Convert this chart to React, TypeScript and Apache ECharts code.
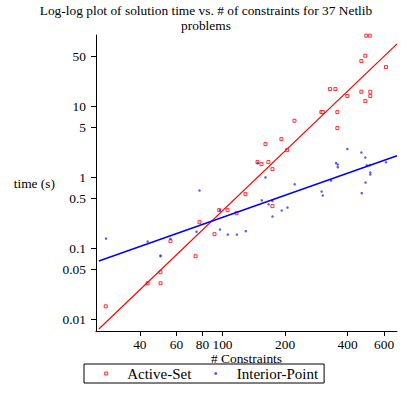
import React, { useEffect, useRef } from 'react';
import * as echarts from 'echarts';

// Number of constraints (x) and solution time in seconds (y) per Netlib problem
const activeSetConstraints = [27.4, 43.6, 50.3, 50.3, 56.2, 74.2, 77.5, 91.5, 96.4, 105.7, 116.8, 129.0, 147.4, 154.0, 166.4, 161.0, 174.0, 174.0, 192.1, 204.7, 222.0, 299.2, 303.9, 357.2, 357.2, 329.5, 349.4, 399, 466, 514.6, 514.6, 486.9, 466, 486.9, 612.4, 492.3, 511.2];
const activeSetTime = [0.0152, 0.0321, 0.0459, 0.0321, 0.1255, 0.0771, 0.232, 0.1575, 0.343, 0.343, 0.311, 0.576, 1.627, 1.524, 1.627, 2.915, 1.296, 0.391, 3.43, 2.40, 6.21, 8.23, 8.23, 8.23, 4.90, 17.35, 17.35, 13.83, 15.9, 15.9, 13.83, 11.76, 43.0, 51.1, 35.4, 97.8, 97.8];

const interiorPointConstraints = [27.5, 43.6, 50.3, 50.3, 56.2, 75, 77.5, 97.2, 97.2, 106, 117.3, 129.5, 147.8, 154.5, 161, 166.7, 174, 174, 192.8, 205.5, 222.5, 300, 303.9, 333.2, 352.1, 358.8, 358.8, 399, 466, 468, 486.9, 488, 494.5, 511.2, 514.6, 514.6, 612.4];
const interiorPointTime = [0.1365, 0.124, 0.0771, 0.079, 0.135, 0.171, 0.648, 0.343, 0.183, 0.1555, 0.1555, 0.1735, 1.575, 0.471, 0.99, 0.414, 0.461, 0.279, 0.339, 0.373, 0.792, 0.627, 0.551, 0.895, 1.575, 1.504, 1.383, 2.48, 2.22, 0.595, 1.888, 0.839, 1.466, 1.476, 1.161, 1.088, 1.616];

// Fitted lines (end points)
const fitConstraints = [25.4, 692];
const activeSetFit = [0.0073, 75];
const interiorPointFit = [0.0662, 2.0];

const xTicks = [40, 60, 80, 100, 200, 400, 600];
const yTicks = [0.01, 0.05, 0.1, 0.5, 1, 5, 10, 50];

const FONT = '"Liberation Serif", "Times New Roman", serif';
const lg = Math.log10;
const pairs = (xs: number[], ys: number[]) => xs.map((x, i) => [lg(x), lg(ys[i])]);
const tickLabel = (ticks: number[]) => (v: number) => {
  const t = ticks.find((k) => Math.abs(lg(k) - v) < 1e-6);
  return t === undefined ? '' : String(t);
};

export default function App() {
  const ref = useRef<HTMLDivElement>(null);
  useEffect(() => {
    if (!ref.current) return;
    const chart = echarts.init(ref.current, undefined, { renderer: 'svg' });
    chart.setOption({
      animation: false,
      backgroundColor: '#fff',
      title: {
        text: 'Log-log plot of solution time vs. # of constraints for 37 Netlib\nproblems',
        left: 'center',
        top: 3,
        padding: 0,
        textStyle: { fontFamily: FONT, fontSize: 13.4, fontWeight: 'normal', color: '#000', lineHeight: 15 },
      },
      legend: {
        data: [
          { name: 'Active-Set', icon: 'rect', itemStyle: { color: '#fff', borderColor: '#ff0000', borderWidth: 1 } },
          { name: 'Interior-Point', icon: 'circle', itemStyle: { color: '#3030ff', borderWidth: 0 } },
        ],
        left: 84,
        top: 364,
        orient: 'horizontal',
        itemWidth: 3,
        itemHeight: 3,
        itemGap: 22.9,
        padding: [2, 6, 2, 20.2],
        borderColor: '#000',
        borderWidth: 1,
        borderRadius: 0,
        selectedMode: false,
        textStyle: { fontFamily: FONT, fontSize: 15, color: '#000', lineHeight: 15, padding: [0, 0, 0, 14.5] },
      },
      grid: { left: 96, right: 15, top: 35, bottom: 63, containLabel: false },
      xAxis: {
        type: 'value',
        min: 1.391,
        max: 2.84,
        name: '# Constraints',
        nameLocation: 'middle',
        nameGap: 21,
        nameMoveOverlap: false,
        nameTextStyle: { fontFamily: FONT, fontSize: 13.4, color: '#000', lineHeight: 13.4 },
        axisLine: { show: true, onZero: false, lineStyle: { color: '#000', width: 1 } },
        axisTick: { show: true, length: 5, lineStyle: { color: '#000' }, customValues: xTicks.map(lg) },
        axisLabel: {
          customValues: xTicks.map(lg),
          formatter: tickLabel(xTicks),
          margin: 7,
          fontFamily: FONT,
          fontSize: 13.4,
          color: '#000',
        },
        splitLine: { show: false },
      },
      yAxis: {
        type: 'value',
        min: -2.165,
        max: 2.0,
        name: 'time (s)',
        nameLocation: 'middle',
        nameRotate: 0,
        nameGap: 41,
        nameMoveOverlap: false,
        nameTextStyle: { fontFamily: FONT, fontSize: 13.4, color: '#000' },
        axisLine: { show: true, onZero: false, lineStyle: { color: '#000', width: 1 } },
        axisTick: { show: true, length: 5, lineStyle: { color: '#000' }, customValues: yTicks.map(lg) },
        axisLabel: {
          customValues: yTicks.map(lg),
          formatter: tickLabel(yTicks),
          margin: 10,
          fontFamily: FONT,
          fontSize: 13.4,
          color: '#000',
        },
        splitLine: { show: false },
      },
      series: [
        {
          name: 'Active-Set fit',
          type: 'line',
          data: pairs(fitConstraints, activeSetFit),
          showSymbol: false,
          symbol: 'none',
          lineStyle: { color: '#ff0000', width: 1.2 },
          silent: true,
        },
        {
          name: 'Interior-Point fit',
          type: 'line',
          data: pairs(fitConstraints, interiorPointFit),
          showSymbol: false,
          symbol: 'none',
          lineStyle: { color: '#0000ff', width: 1.5 },
          silent: true,
        },
        {
          name: 'Active-Set',
          type: 'scatter',
          data: pairs(activeSetConstraints, activeSetTime),
          symbol: 'rect',
          symbolSize: 3,
          itemStyle: { color: '#fff', borderColor: '#ff0000', borderWidth: 1 },
        },
        {
          name: 'Interior-Point',
          type: 'scatter',
          data: pairs(interiorPointConstraints, interiorPointTime),
          symbol: 'circle',
          symbolSize: 2.5,
          itemStyle: { color: '#3030ff' },
        },
      ],
    });
    return () => chart.dispose();
  }, []);
  return (
    <div
      ref={ref}
      style={{ position: 'fixed', left: 0, top: 0, width: 412, height: 394, background: '#fff' }}
    />
  );
}
